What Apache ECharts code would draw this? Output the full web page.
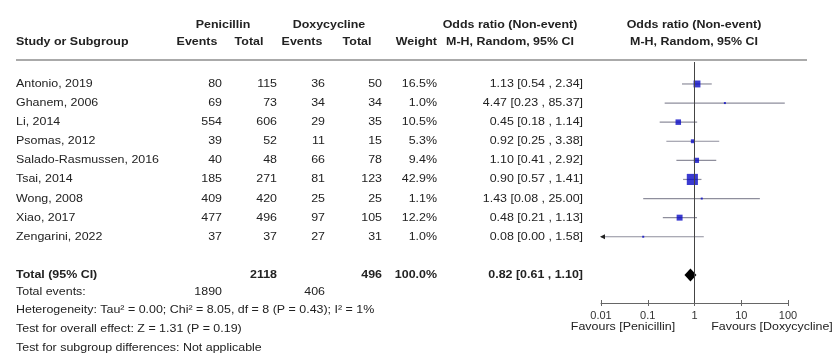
<!DOCTYPE html>
<html>
<head>
<meta charset="utf-8">
<script src="https://cdn.jsdelivr.net/npm/echarts@6/dist/echarts.min.js"></script>
<style>
  html, body { margin: 0; padding: 0; background: #fff; }
  #chart { width: 834px; height: 355px; }
</style>
</head>
<body>
<div id="chart"></div>
<script>
// Forest plot: penicillin vs doxycycline, odds ratio (non-event), M-H random effects
const studies = ['Antonio, 2019', 'Ghanem, 2006', 'Li, 2014', 'Psomas, 2012', 'Salado-Rasmussen, 2016',
                 'Tsai, 2014', 'Wong, 2008', 'Xiao, 2017', 'Zengarini, 2022'];
const penEvents = [80, 69, 554, 39, 40, 185, 409, 477, 37];
const penTotal  = [115, 73, 606, 52, 48, 271, 420, 496, 37];
const doxEvents = [36, 34, 29, 11, 66, 81, 25, 97, 27];
const doxTotal  = [50, 34, 35, 15, 78, 123, 25, 105, 31];
const weights   = [16.5, 1.0, 10.5, 5.3, 9.4, 42.9, 1.1, 12.2, 1.0];
const oddsRatio = [1.13, 4.47, 0.45, 0.92, 1.10, 0.90, 1.43, 0.48, 0.08];
const ciLow     = [0.54, 0.23, 0.18, 0.25, 0.41, 0.57, 0.08, 0.21, 0.00];
const ciHigh    = [2.34, 85.37, 1.14, 3.38, 2.92, 1.41, 25.00, 1.13, 1.58];

const totalLabel = 'Total (95% CI)';
const totalPen = 2118, totalDox = 496, totalWeight = 100.0;
const totalOR = 0.82, totalLow = 0.61, totalHigh = 1.10;
const totalPenEvents = 1890, totalDoxEvents = 406;
const footNotes = [
  'Heterogeneity: Tau\u00b2 = 0.00; Chi\u00b2 = 8.05, df = 8 (P = 0.43); I\u00b2 = 1%',
  'Test for overall effect: Z = 1.31 (P = 0.19)',
  'Test for subgroup differences: Not applicable'
];
const tickLabels = ['0.01', '0.1', '1', '10', '100'];
const favourLeft = 'Favours [Penicillin]';
const favourRight = 'Favours [Doxycycline]';

const FONT = '"Liberation Sans", Arial, sans-serif';
const TXT = '#222';
const FS = 11;
const WIDE = 1.13;   // horizontal stretch of the table lettering
const TOTAL_ROW = 10;

// column anchors
const COL = { study: 16, penE: 222, penT: 277, doxE: 325, doxT: 382, weight: 437, ci: 583 };

function fmt2(v) { return v.toFixed(2); }
function ciText(o, l, h) { return fmt2(o) + ' [' + fmt2(l) + ' , ' + fmt2(h) + ']'; }

function txt(x, y, s, align, bold, size) {
  return {
    type: 'text',
    x: x, y: y, scaleX: WIDE,
    style: {
      text: s, x: 0, y: 0, fill: TXT,
      font: (bold ? 'bold ' : '') + (size || FS) + 'px ' + FONT,
      textAlign: align || 'left', textVerticalAlign: 'middle'
    }
  };
}

const tableRows = studies.map((s, i) => [i]);
tableRows.push([TOTAL_ROW]);

const chart = echarts.init(document.getElementById('chart'), null, { renderer: 'canvas' });

const option = {
  animation: false,
  backgroundColor: '#fff',
  grid: { left: 601, right: 46, top: 62, bottom: 52 },
  xAxis: [{
    type: 'log', logBase: 10, min: 0.01, max: 100, interval: 1,
    position: 'bottom',
    axisLine: { show: true, onZero: false, lineStyle: { color: '#666', width: 1 } },
    axisTick: { show: true, length: 3, lineStyle: { color: '#666' } },
    axisLabel: {
      show: true, margin: 7, color: '#333', fontSize: 11, fontFamily: FONT,
      formatter: (v, idx) => tickLabels[idx]
    },
    splitLine: { show: false }
  }, {
    type: 'log', logBase: 10, min: 0.01, max: 100, interval: 1,
    position: 'bottom',
    axisLine: { show: false, onZero: false },
    axisTick: { show: true, inside: true, length: 3, lineStyle: { color: '#666' } },
    axisLabel: { show: false },
    splitLine: { show: false }
  }],
  yAxis: { type: 'value', inverse: true, min: -1.15, max: 11.47, show: false },
  graphic: [
    txt(223, 25, 'Penicillin', 'center', true),
    txt(329, 25, 'Doxycycline', 'center', true),
    txt(16, 42, 'Study or Subgroup', 'left', true),
    txt(197, 42, 'Events', 'center', true),
    txt(249, 42, 'Total', 'center', true),
    txt(302, 42, 'Events', 'center', true),
    txt(357, 42, 'Total', 'center', true),
    txt(437, 42, 'Weight', 'right', true),
    txt(510, 25, 'Odds ratio (Non-event)', 'center', true),
    txt(510, 42, 'M-H, Random, 95% CI', 'center', true),
    txt(694, 25, 'Odds ratio (Non-event)', 'center', true),
    txt(694, 42, 'M-H, Random, 95% CI', 'center', true),
    { type: 'line', shape: { x1: 16, y1: 60, x2: 807, y2: 60 },
      style: { stroke: '#aaa', lineWidth: 2 } },
    txt(16, 292, 'Total events:', 'left', false),
    txt(COL.penE, 292, String(totalPenEvents), 'right', false),
    txt(COL.doxE, 292, String(totalDoxEvents), 'right', false),
    txt(16, 310, footNotes[0], 'left', false),
    txt(16, 329, footNotes[1], 'left', false),
    txt(16, 348, footNotes[2], 'left', false),
    txt(623, 327, favourLeft, 'center', false),
    txt(772, 327, favourRight, 'center', false)
  ],
  series: [
    {
      // text columns, positioned on each study row
      type: 'custom', name: 'table', clip: false, silent: true,
      data: tableRows,
      encode: { x: -1, y: 0 },
      renderItem: function (params, api) {
        const r = api.value(0);
        const y = api.coord([1, r])[1];
        if (r === TOTAL_ROW) {
          return { type: 'group', children: [
            txt(COL.study, y, totalLabel, 'left', true),
            txt(COL.penT, y, String(totalPen), 'right', true),
            txt(COL.doxT, y, String(totalDox), 'right', true),
            txt(COL.weight, y, totalWeight.toFixed(1) + '%', 'right', true),
            txt(COL.ci, y, ciText(totalOR, totalLow, totalHigh), 'right', true)
          ]};
        }
        return { type: 'group', children: [
          txt(COL.study, y, studies[r], 'left', false),
          txt(COL.penE, y, String(penEvents[r]), 'right', false),
          txt(COL.penT, y, String(penTotal[r]), 'right', false),
          txt(COL.doxE, y, String(doxEvents[r]), 'right', false),
          txt(COL.doxT, y, String(doxTotal[r]), 'right', false),
          txt(COL.weight, y, weights[r].toFixed(1) + '%', 'right', false),
          txt(COL.ci, y, ciText(oddsRatio[r], ciLow[r], ciHigh[r]), 'right', false)
        ]};
      }
    },
    {
      // confidence interval whiskers, with an arrow where the interval leaves the scale
      type: 'custom', name: 'ci', clip: false, silent: true,
      data: studies.map((s, i) => [i, ciLow[i], ciHigh[i]]),
      renderItem: function (params, api) {
        const r = api.value(0);
        const lo = Math.max(api.value(1), 0.01);
        const hi = Math.min(api.value(2), 100);
        const p1 = api.coord([lo, r]);
        const p2 = api.coord([hi, r]);
        const children = [{
          type: 'line',
          shape: { x1: p1[0], y1: p1[1], x2: p2[0], y2: p2[1] },
          style: { stroke: '#8e8e9c', lineWidth: 1.2 }
        }];
        if (api.value(1) < 0.01) {
          children.push({ type: 'polygon',
            shape: { points: [[p1[0] - 1, p1[1]], [p1[0] + 4, p1[1] - 2.5], [p1[0] + 4, p1[1] + 2.5]] },
            style: { fill: '#222' } });
        }
        return { type: 'group', children: children };
      }
    },
    {
      // study point estimates, square area follows weight
      type: 'scatter', name: 'estimate', silent: true,
      symbol: 'rect',
      data: studies.map((s, i) => [oddsRatio[i], i, weights[i]]),
      symbolSize: v => Math.max(2, 1.7 * Math.sqrt(v[2])),
      itemStyle: { color: '#0a0ac4' },
      markLine: {
        silent: true, symbol: 'none', label: { show: false },
        lineStyle: { color: '#444', width: 1, type: 'solid' },
        data: [{ xAxis: 1 }]
      }
    },
    {
      // pooled estimate diamond
      type: 'custom', name: 'pooled', clip: false, silent: true,
      data: [[TOTAL_ROW, totalOR, totalLow, totalHigh]],
      renderItem: function (params, api) {
        const r = api.value(0);
        const c = api.coord([api.value(1), r]);
        const l = api.coord([api.value(2), r]);
        const h = api.coord([api.value(3), r]);
        const hh = 6.5;
        return { type: 'polygon',
          shape: { points: [[l[0], c[1]], [c[0], c[1] - hh], [h[0], c[1]], [c[0], c[1] + hh]] },
          style: { fill: '#000' } };
      }
    }
  ]
};
chart.setOption(option);
</script>
</body>
</html>
